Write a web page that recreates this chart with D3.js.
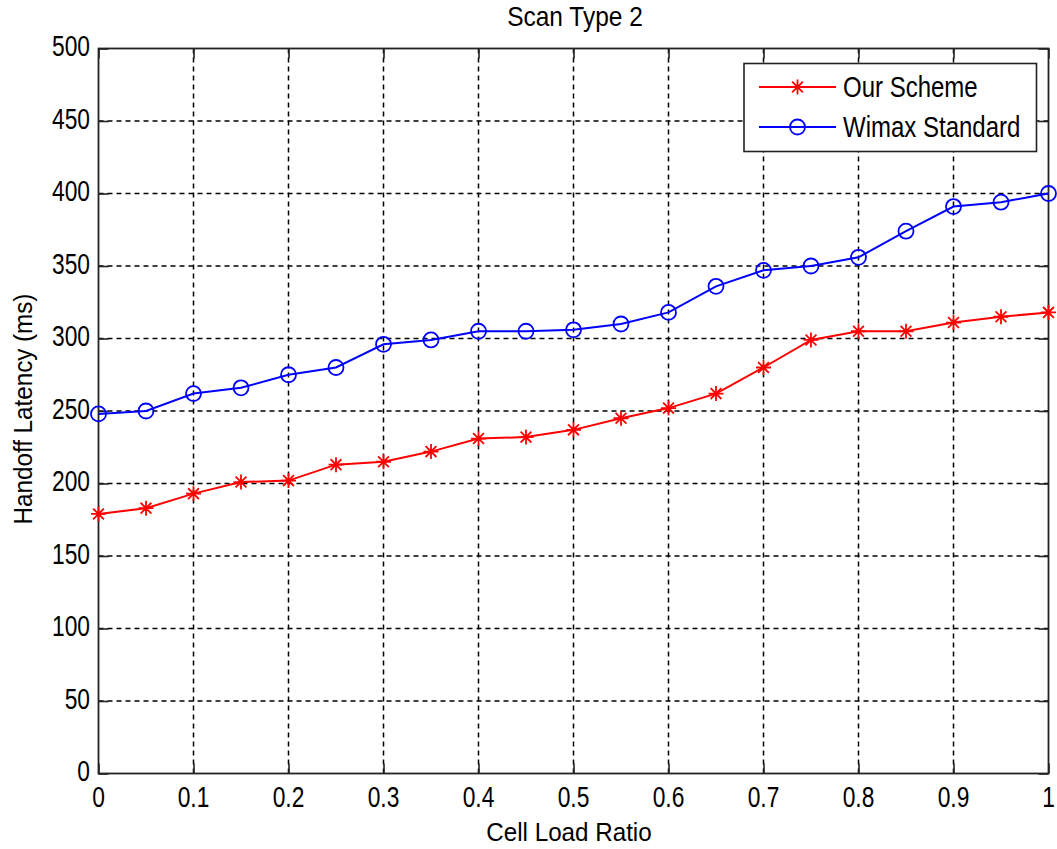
<!DOCTYPE html>
<html>
<head>
<meta charset="utf-8">
<script src="https://cdn.jsdelivr.net/npm/d3@7"></script>
<style>
  html, body { margin: 0; padding: 0; background: #fff; }
  svg { display: block; }
  text { font-family: "Liberation Sans", Arial, sans-serif; fill: #000; }
</style>
</head>
<body>
<svg id="chart" width="1057" height="849"></svg>
<script>
const xValues = [0, 0.05, 0.1, 0.15, 0.2, 0.25, 0.3, 0.35, 0.4, 0.45, 0.5, 0.55, 0.6, 0.65, 0.7, 0.75, 0.8, 0.85, 0.9, 0.95, 1.0];
const ourScheme = [179, 183, 193, 201, 202, 213, 215, 222, 231, 232, 237, 245, 252, 262, 280, 299, 305, 305, 311, 315, 318];
const wimaxStandard = [248, 250, 262, 266, 275, 280, 296, 299, 305, 305, 306, 310, 318, 336, 347, 350, 356, 374, 391, 394, 400];
const xTicks = [0, 0.1, 0.2, 0.3, 0.4, 0.5, 0.6, 0.7, 0.8, 0.9, 1];
const yTicks = [0, 50, 100, 150, 200, 250, 300, 350, 400, 450, 500];
const seriesNames = ["Our Scheme", "Wimax Standard"];
const titleText = "Scan Type 2";
const xLabelText = "Cell Load Ratio";
const yLabelText = "Handoff Latency (ms)";

(function () {
const svg = d3.select("#chart");
const pL = 98.5, pR = 1048.5, pT = 48.5, pB = 773.5;
const x = d3.scaleLinear().domain([0, 1]).range([pL, pR]);
const y = d3.scaleLinear().domain([0, 500]).range([pB, pT]);

// grid
const grid = svg.append("g");
grid.selectAll("line.gx").data(xTicks.slice(1, -1)).enter().append("line")
  .attr("x1", d => x(d)).attr("x2", d => x(d)).attr("y1", pT).attr("y2", pB)
  .attr("stroke", "#000").attr("stroke-width", 1.5).attr("stroke-dasharray", "5,4");
grid.selectAll("line.gy").data(yTicks.slice(1, -1)).enter().append("line")
  .attr("y1", d => y(d)).attr("y2", d => y(d)).attr("x1", pL).attr("x2", pR)
  .attr("stroke", "#000").attr("stroke-width", 1.5).attr("stroke-dasharray", "5,4");

// axes (inward ticks, box)
const tl = 10;
svg.append("g").attr("transform", `translate(0,${pB})`)
  .call(d3.axisTop(x).tickValues(xTicks).tickSize(tl).tickFormat(""))
  .call(g => g.select(".domain").remove());
svg.append("g").attr("transform", `translate(0,${pT})`)
  .call(d3.axisBottom(x).tickValues(xTicks).tickSize(tl).tickFormat(""))
  .call(g => g.select(".domain").remove());
svg.append("g").attr("transform", `translate(${pL},0)`)
  .call(d3.axisRight(y).tickValues(yTicks).tickSize(tl).tickFormat(""))
  .call(g => g.select(".domain").remove());
svg.append("g").attr("transform", `translate(${pR},0)`)
  .call(d3.axisLeft(y).tickValues(yTicks).tickSize(tl).tickFormat(""))
  .call(g => g.select(".domain").remove());
svg.selectAll(".tick line").attr("stroke", "#222").attr("stroke-width", 1.6);
svg.append("rect").attr("x", pL).attr("y", pT).attr("width", pR - pL).attr("height", pB - pT)
  .attr("fill", "none").attr("stroke", "#222").attr("stroke-width", 1.8);

function stretchedText(px, py, str, anchor, fs, sy, rot) {
  return svg.append("text")
    .attr("transform", `translate(${px},${py})${rot ? " rotate(" + rot + ")" : ""} scale(1,${sy})`)
    .attr("text-anchor", anchor).attr("dominant-baseline", "central")
    .attr("font-size", fs).text(str);
}
// tick labels
xTicks.forEach(t => stretchedText(x(t), 797, d3.format("")(t), "middle", 22.8, 1.26));
yTicks.forEach(t => stretchedText(90, y(t) - 2, String(t), "end", 22.8, 1.26));

// titles
stretchedText(575, 17, titleText, "middle", 24.5, 1.1);
stretchedText(569, 832, xLabelText, "middle", 24.2, 1.07);
stretchedText(23, 409, yLabelText, "middle", 24.2, 1.05, -90);

// lines
const line = d3.line().x((d, i) => x(xValues[i])).y(d => y(d));
svg.append("path").datum(ourScheme).attr("d", line)
  .attr("fill", "none").attr("stroke", "#ff0000").attr("stroke-width", 2);
svg.append("path").datum(wimaxStandard).attr("d", line)
  .attr("fill", "none").attr("stroke", "#0000ff").attr("stroke-width", 2);

function starPath(cx, cy, r) {
  const d = r * 0.72;
  return `M${cx - r},${cy}L${cx + r},${cy}M${cx},${cy - r}L${cx},${cy + r}` +
         `M${cx - d},${cy - d}L${cx + d},${cy + d}M${cx - d},${cy + d}L${cx + d},${cy - d}`;
}
svg.append("g").selectAll("path").data(ourScheme).enter().append("path")
  .attr("d", (d, i) => starPath(x(xValues[i]), y(d), 7.5))
  .attr("stroke", "#ff0000").attr("stroke-width", 1.8).attr("fill", "none");
svg.append("g").selectAll("circle").data(wimaxStandard).enter().append("circle")
  .attr("cx", (d, i) => x(xValues[i])).attr("cy", d => y(d)).attr("r", 7.5)
  .attr("stroke", "#0000ff").attr("stroke-width", 1.8).attr("fill", "none");

// legend
const lg = svg.append("g");
lg.append("rect").attr("x", 744).attr("y", 63.5).attr("width", 292.5).attr("height", 88)
  .attr("fill", "#fff").attr("stroke", "#222").attr("stroke-width", 1.6);
const legendY = [87, 127];
const colors = ["#ff0000", "#0000ff"];
seriesNames.forEach((name, i) => {
  lg.append("line").attr("x1", 759).attr("x2", 836).attr("y1", legendY[i]).attr("y2", legendY[i])
    .attr("stroke", colors[i]).attr("stroke-width", 2);
  if (i === 0) {
    lg.append("path").attr("d", starPath(797.5, legendY[i], 7.5))
      .attr("stroke", colors[i]).attr("stroke-width", 1.8).attr("fill", "none");
  } else {
    lg.append("circle").attr("cx", 797.5).attr("cy", legendY[i]).attr("r", 7.5)
      .attr("stroke", colors[i]).attr("stroke-width", 1.8).attr("fill", "none");
  }
  lg.append("text")
    .attr("transform", `translate(843,${legendY[i]}) scale(1,1.2)`)
    .attr("dominant-baseline", "central").attr("font-size", 24).text(name);
});
})();
</script>
</body>
</html>
